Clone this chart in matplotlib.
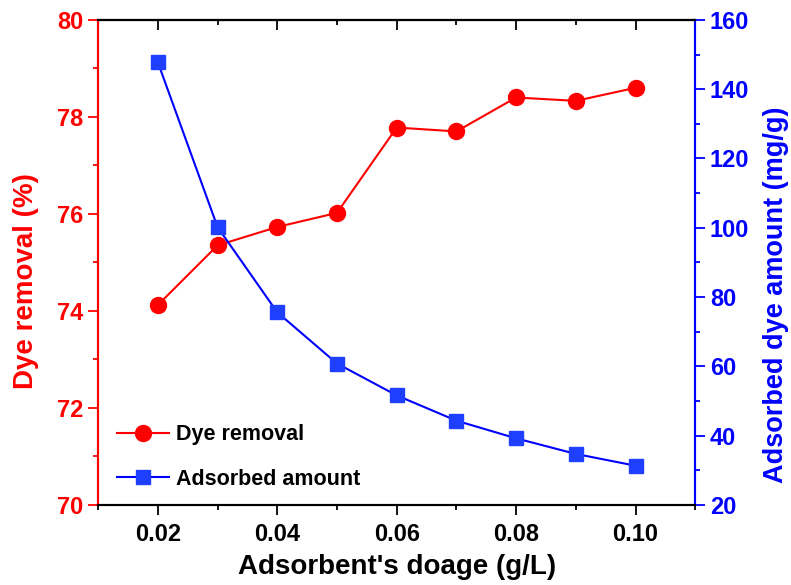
import matplotlib
matplotlib.use("Agg")
import matplotlib.pyplot as plt
from matplotlib.ticker import MultipleLocator

plt.rcParams.update({"font.family": ["Liberation Sans", "DejaVu Sans"],
                     "font.weight": "bold"})

dosage = [0.02, 0.03, 0.04, 0.05, 0.06, 0.07, 0.08, 0.09, 0.10]
removal = [74.12, 75.35, 75.73, 76.02, 77.78, 77.70, 78.40, 78.33, 78.60]
adsorbed = [147.8, 100.2, 75.6, 60.8, 51.6, 44.3, 39.2, 34.7, 31.3]

RED = "#ff0000"
BLUE = "#0000ff"
SQ = "#1f3fff"

fig = plt.figure(figsize=(7.91, 5.85), dpi=100)
ax = fig.add_axes([0.124, 0.137, 0.755, 0.829])
ax2 = ax.twinx()

l1, = ax.plot(dosage, removal, "-o", color=RED, lw=1.5, ms=11.5,
              mec=RED, mfc=RED, label="Dye removal")
l2, = ax2.plot(dosage, adsorbed, "-s", color=BLUE, lw=1.5, ms=10,
               mec=SQ, mfc=SQ, label="Adsorbed amount")

ax.set_xlim(0.01, 0.11)
ax.set_ylim(70, 80)
ax2.set_ylim(20, 160)
ax.xaxis.set_minor_locator(MultipleLocator(0.01))
ax.yaxis.set_major_locator(MultipleLocator(2))
ax.yaxis.set_minor_locator(MultipleLocator(1))
ax2.yaxis.set_major_locator(MultipleLocator(20))
ax2.yaxis.set_minor_locator(MultipleLocator(10))
ax.set_xticks([0.02, 0.04, 0.06, 0.08, 0.10])
ax.set_xticklabels(["0.02", "0.04", "0.06", "0.08", "0.10"])

# colour the y axes to match their series
for a in (ax, ax2):
    a.spines["left"].set_color(RED)
    a.spines["right"].set_color(BLUE)
    for s in a.spines.values():
        s.set_linewidth(1.5)

ax.tick_params(axis="y", which="both", colors=RED, labelsize=17, width=1.3)
ax.tick_params(axis="y", which="major", length=7)
ax.tick_params(axis="y", which="minor", length=3.5)
ax2.tick_params(axis="y", which="both", colors=BLUE, labelsize=17, width=1.3)
ax2.tick_params(axis="y", which="major", length=7)
ax2.tick_params(axis="y", which="minor", length=3.5)
ax.tick_params(axis="x", which="both", labelsize=17, width=1.3)
ax.tick_params(axis="x", which="major", length=7, pad=6)
ax.tick_params(axis="x", which="minor", length=3.5)

# top ticks point inward
top = ax.secondary_xaxis("top")
top.set_xticks([0.02, 0.04, 0.06, 0.08, 0.10])
top.xaxis.set_minor_locator(MultipleLocator(0.01))
top.tick_params(axis="x", which="both", direction="in", labeltop=False,
                width=1.3)
top.tick_params(axis="x", which="major", length=7)
top.tick_params(axis="x", which="minor", length=3.5)
top.spines["top"].set_linewidth(1.5)

ax.set_xlabel("Adsorbent's doage (g/L)", fontsize=20, fontweight="bold",
              labelpad=6)
ax.set_ylabel("Dye removal (%)", fontsize=20, fontweight="bold", color=RED)
ax2.set_ylabel("Adsorbed dye amount (mg/g)", fontsize=19.5, fontweight="bold",
               color=BLUE)
ax.yaxis.set_label_coords(-0.099, 0.462)
ax2.yaxis.set_label_coords(1.113, 0.433)

ax.legend([l1, l2], ["Dye removal", "Adsorbed amount"], loc="lower left",
          frameon=False, fontsize=15.5, handlelength=2.4, handletextpad=0.35,
          labelspacing=1.09, borderaxespad=0, bbox_to_anchor=(0.017, 0.013))

fig.savefig("out.png", dpi=100)
